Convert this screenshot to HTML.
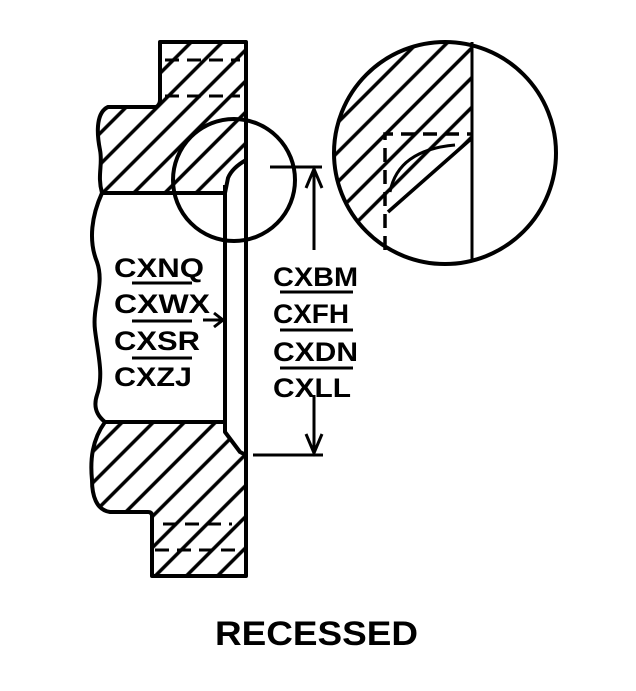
<!DOCTYPE html>
<html><head><meta charset="utf-8"><style>
html,body{margin:0;padding:0;background:#fff;}
svg{display:block}
text{font-family:"Liberation Sans",Arial,sans-serif;fill:#000}
</style></head><body>
<svg width="636" height="691" viewBox="0 0 636 691" xmlns="http://www.w3.org/2000/svg">
<defs>
<pattern id="h" patternUnits="userSpaceOnUse" width="22" height="22" patternTransform="rotate(45)">
<line x1="11" y1="0" x2="11" y2="22" stroke="#000" stroke-width="3.5"/>
</pattern>
<pattern id="h2" patternUnits="userSpaceOnUse" width="21" height="21" patternTransform="rotate(45)">
<line x1="10.5" y1="0" x2="10.5" y2="21" stroke="#000" stroke-width="3.5"/>
</pattern>
<clipPath id="bc"><circle cx="445" cy="153" r="110"/></clipPath>
</defs>
<g stroke="#000" stroke-width="4" fill="none" stroke-linejoin="round">
<path d="M160,42 L246,42 L246,160 Q232,168 228,178 L225,193 L102,193 C97,175 103,165 100,150 C96,130 97,112 108,107 L156,107 Q160,105 160,100 Z" fill="url(#h)"/>
<path d="M105,422 L225,422 L225,432 L240,452 L246,455 L246,576 L152,576 L152,516 Q152,512 148,512 L110,512 C96,510 92,495 92,480 C90,460 92,440 105,422 Z" fill="url(#h)"/>
<path d="M102,193 C92,215 88,240 97,262 C105,285 92,305 95,330 C98,355 104,375 97,395 C92,410 100,418 105,422"/>
<line x1="225" y1="185" x2="225" y2="422"/>
<line x1="246" y1="150" x2="246" y2="460"/>
</g>
<g stroke="#000" stroke-width="3" stroke-dasharray="14,8" fill="none">
<line x1="165" y1="60" x2="240" y2="60"/>
<line x1="165" y1="96" x2="240" y2="96"/>
<line x1="163" y1="524" x2="232" y2="524"/>
<line x1="155" y1="550" x2="242" y2="550"/>
</g>
<circle cx="234" cy="180" r="61" stroke="#000" stroke-width="4" fill="none"/>
<g stroke="#000" stroke-width="3" fill="none">
<line x1="270" y1="167" x2="322" y2="167"/>
<line x1="253" y1="455" x2="323" y2="455"/>
<line x1="314" y1="170" x2="314" y2="250"/>
<line x1="314" y1="395" x2="314" y2="452"/>
<polyline points="306,188 314,169 322,188"/>
<polyline points="306,434 314,453 322,434"/>
<line x1="203" y1="320" x2="222" y2="320"/>
<polyline points="214,313 223,320 214,327"/>
</g>
<g clip-path="url(#bc)">
<path d="M320,30 L472,30 L472,270 L320,270 Z" fill="url(#h2)"/>
<path d="M472,138 L472,270 L340,270 L340,253 Z" fill="#fff"/>
</g>
<g stroke="#000" fill="none">
<circle cx="445" cy="153" r="111" stroke-width="4"/>
<line x1="472" y1="42" x2="472" y2="262" stroke-width="3"/>
<path d="M385,250 L385,134 L472,134" stroke-width="3.5" stroke-dasharray="14,8"/>
<path d="M390,192 Q398,150 455,145" stroke-width="3"/>
<line x1="388" y1="212" x2="472" y2="138" stroke-width="3.5"/>
</g>
<g font-size="27" font-weight="bold">
<text x="114" y="277" textLength="90" lengthAdjust="spacingAndGlyphs">CXNQ</text>
<text x="114" y="313" textLength="96" lengthAdjust="spacingAndGlyphs">CXWX</text>
<text x="114" y="350" textLength="86" lengthAdjust="spacingAndGlyphs">CXSR</text>
<text x="114" y="386" textLength="78" lengthAdjust="spacingAndGlyphs">CXZJ</text>
<text x="273" y="286" textLength="85" lengthAdjust="spacingAndGlyphs">CXBM</text>
<text x="273" y="323" textLength="76" lengthAdjust="spacingAndGlyphs">CXFH</text>
<text x="273" y="361" textLength="85" lengthAdjust="spacingAndGlyphs">CXDN</text>
<text x="273" y="397" textLength="78" lengthAdjust="spacingAndGlyphs">CXLL</text>
</g>
<g stroke="#000" stroke-width="3">
<line x1="132" y1="283" x2="192" y2="283"/>
<line x1="132" y1="321" x2="192" y2="321"/>
<line x1="132" y1="358" x2="192" y2="358"/>
<line x1="280" y1="292" x2="353" y2="292"/>
<line x1="280" y1="330" x2="353" y2="330"/>
<line x1="280" y1="368" x2="353" y2="368"/>
</g>
<text x="215" y="645" font-size="34" font-weight="bold" textLength="203" lengthAdjust="spacingAndGlyphs">RECESSED</text>
</svg>
</body></html>
